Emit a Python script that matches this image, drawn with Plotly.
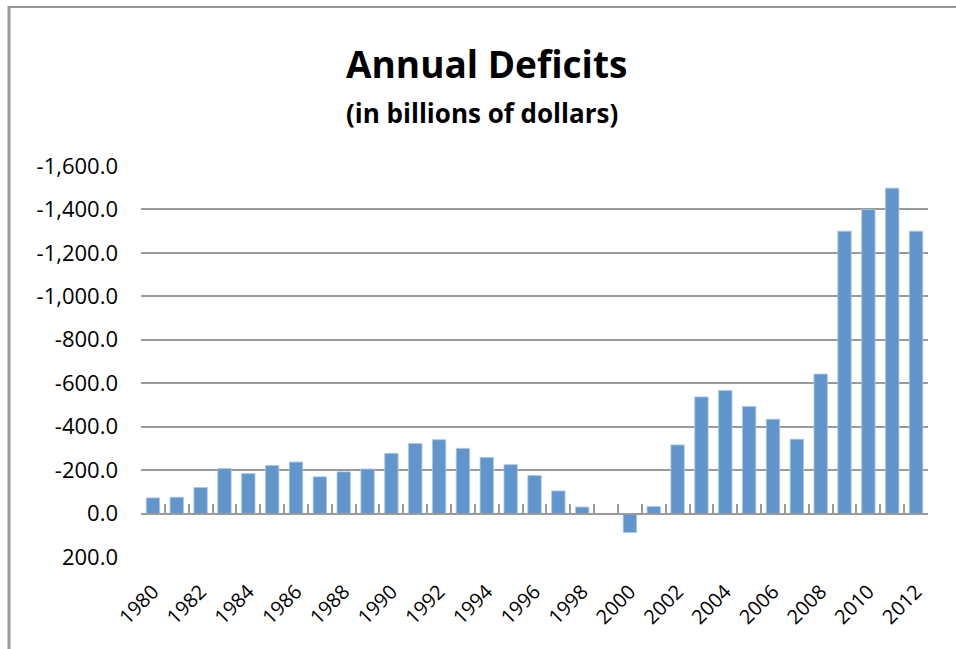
import plotly.graph_objects as go

years = list(range(1980, 2013))
deficits = [-72, -75, -120, -207, -184, -221, -237, -169, -192, -205,
            -277, -322, -340, -300, -258, -225, -175, -104, -30, 2,
            87, -32, -316, -537, -566, -493, -434, -342, -642, -1300,
            -1400, -1498, -1300]
y_ticks = [-1600, -1400, -1200, -1000, -800, -600, -400, -200, 0, 200]
x_label_years = years[::2]

W, H = 956, 649
L, R, T, B = 141, 28, 166, 92
pw, ph = W - L - R, H - T - B
FONT = "Open Sans"

def px_x(x):
    return (x - L) / pw

def px_y(y):
    return (H - B - y) / ph

fig = go.Figure()
fig.add_trace(go.Bar(
    x=years, y=deficits,
    marker=dict(color="#6096cb", line=dict(color="#a9c5e6", width=0.8)),
    xaxis="x", yaxis="y",
))
# invisible trace for category axis at zero
fig.add_trace(go.Scatter(x=[years[0]], y=[0], mode="markers",
                         marker=dict(opacity=0), xaxis="x2", yaxis="y",
                         showlegend=False, hoverinfo="skip"))

ymin, ymax = y_ticks[-1], y_ticks[0]
zero_pos = (ymin - 0) / (ymin - ymax)

fig.update_layout(
    width=W, height=H,
    margin=dict(l=L, r=R, t=T, b=B),
    paper_bgcolor="white", plot_bgcolor="white",
    showlegend=False,
    bargap=0.44,
    font=dict(family=FONT, color="black", size=20),
    xaxis=dict(
        range=[years[0] - 0.5, years[-1] + 0.5],
        tickmode="array", tickvals=x_label_years,
        ticktext=[str(y) for y in x_label_years],
        tickangle=-45, showgrid=False, showline=False, zeroline=False,
        ticks="", ticklabelstandoff=18,
        tickfont=dict(family=FONT, size=20, color="black"),
    ),
    xaxis2=dict(
        overlaying="x", anchor="free", position=zero_pos, side="bottom",
        range=[years[0] - 0.5, years[-1] + 0.5],
        tickmode="array",
        tickvals=[y - 0.5 for y in years] + [years[-1] + 0.5],
        showticklabels=False, ticks="inside", ticklen=9, tickwidth=2,
        tickcolor="#9a9a9a", showline=True, linecolor="#9a9a9a", linewidth=2,
        showgrid=False, zeroline=False,
    ),
    yaxis=dict(
        range=[ymin, ymax], autorange=False,
        tickmode="array", tickvals=y_ticks,
        ticktext=[f"{v:,.1f}" for v in y_ticks],
        showgrid=True, gridcolor="#9a9a9a", gridwidth=2,
        zeroline=False, showline=False, ticks="", ticklabelstandoff=22,
        tickfont=dict(family=FONT, size=22, color="black"),
    ),
    annotations=[
        dict(text="<b>Annual Deficits</b>", xref="paper", yref="paper",
             x=px_x(486), y=px_y(64), xanchor="center", yanchor="middle",
             showarrow=False, font=dict(family=FONT, size=37, color="black")),
        dict(text="<b>(in billions of dollars)</b>", xref="paper", yref="paper",
             x=px_x(482), y=px_y(113), xanchor="center", yanchor="middle",
             showarrow=False, font=dict(family=FONT, size=26, color="black")),
    ],
    shapes=[
        dict(type="line", xref="paper", yref="paper",
             x0=px_x(9), x1=px_x(9), y0=px_y(H + 5), y1=px_y(6),
             line=dict(color="#999999", width=3)),
        dict(type="line", xref="paper", yref="paper",
             x0=px_x(8), x1=px_x(W + 5), y0=px_y(7), y1=px_y(7),
             line=dict(color="#999999", width=2)),
    ],
)

fig.write_html(
    "out.html",
    config={"displayModeBar": False},
    post_script="document.body.style.margin='0';document.body.style.overflow='hidden';",
)
